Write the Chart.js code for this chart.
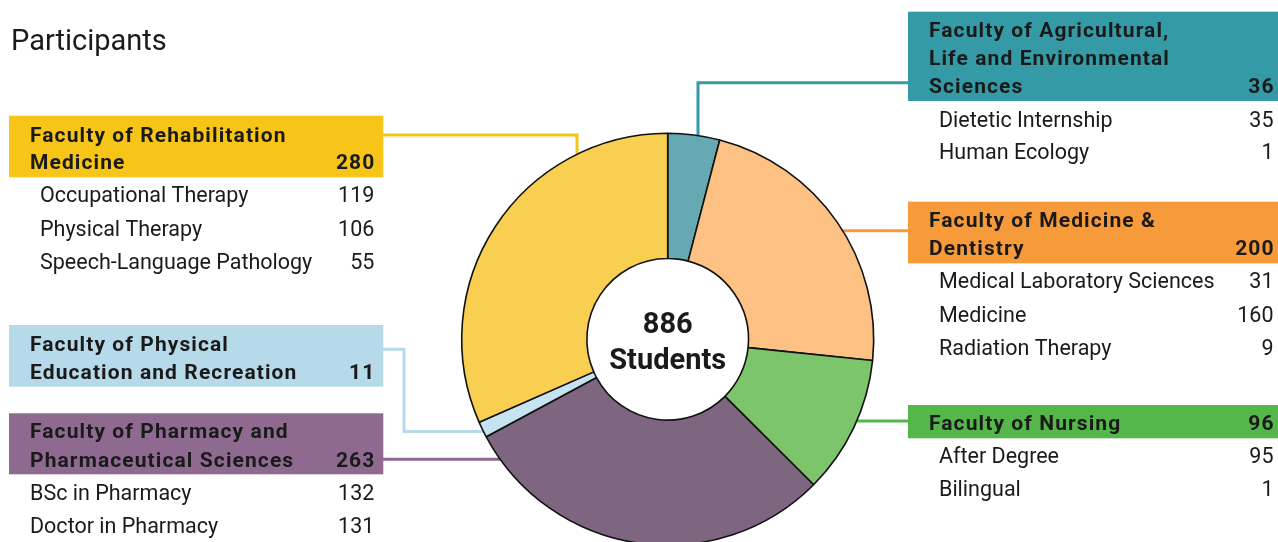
<!DOCTYPE html>
<html><head><meta charset="utf-8">
<script src="https://cdn.jsdelivr.net/npm/chart.js@4.4.0/dist/chart.umd.min.js"></script>
<style>html,body{margin:0;padding:0;overflow:hidden;background:#fff}canvas{display:block}</style>
</head><body><canvas id="c" width="1278" height="560"></canvas>
<script>
// ---- DATA ----
const chartTitle = 'Participants';
const centerLabel = 'Students';
const faculties = [
  'Faculty of Agricultural, Life and Environmental Sciences',
  'Faculty of Medicine & Dentistry',
  'Faculty of Nursing',
  'Faculty of Pharmacy and Pharmaceutical Sciences',
  'Faculty of Physical Education and Recreation',
  'Faculty of Rehabilitation Medicine'
];
const facultyTotals = [36, 200, 96, 263, 11, 280];
const titleLines = [
  ['Faculty of Agricultural,', 'Life and Environmental', 'Sciences'],
  ['Faculty of Medicine &', 'Dentistry'],
  ['Faculty of Nursing'],
  ['Faculty of Pharmacy and', 'Pharmaceutical Sciences'],
  ['Faculty of Physical', 'Education and Recreation'],
  ['Faculty of Rehabilitation', 'Medicine']
];
const programNames = [
  ['Dietetic Internship', 'Human Ecology'],
  ['Medical Laboratory Sciences', 'Medicine', 'Radiation Therapy'],
  ['After Degree', 'Bilingual'],
  ['BSc in Pharmacy', 'Doctor in Pharmacy'],
  [],
  ['Occupational Therapy', 'Physical Therapy', 'Speech-Language Pathology']
];
const programValues = [
  [35, 1],
  [31, 160, 9],
  [95, 1],
  [132, 131],
  [],
  [119, 106, 55]
];
const sliceColors = ['#67A9B3', '#FCC183', '#7DC56B', '#7E6580', '#C6E3F1', '#F8CF50'];
const boxColors   = ['#349AA6', '#F79A3A', '#55B74A', '#8E6A91', '#B6DAEA', '#F6C518'];

// ---- LAYOUT (annotation positions) ----
const boxLayout = [
  {x0:908, x1:1278, y0:11.7, y1:101,  tx:929, nx:1273.5, lineY:[36.7,65,93.3], subX:939, subY:[126.7,159.3], conn:[[908,82.7],[698,82.7],[698,175]]},
  {x0:908, x1:1278, y0:201.7,y1:263.3,tx:929, nx:1273.5, lineY:[227.3,255], subX:939, subY:[288.3,321.7,355], conn:[[908,230.7],[800,230.7]]},
  {x0:908, x1:1278, y0:405,  y1:438.3,tx:929, nx:1273.5, lineY:[430], subX:939, subY:[463.3,496], conn:[[908,421],[800,421]]},
  {x0:9,   x1:383.3,y0:413.3,y1:474.3,tx:30,  nx:374.3, lineY:[438.3,466.7], subX:30, subY:[500,533.3], conn:[[383,459.3],[545,459.3]]},
  {x0:9,   x1:383.3,y0:325,  y1:386.7,tx:30,  nx:374.3, lineY:[350.7,379], subX:30, subY:[], conn:[[383,349.3],[404,349.3],[404,431.5],[545,431.5]]},
  {x0:9,   x1:383.3,y0:115.7,y1:177.3,tx:30,  nx:374.3, lineY:[141.7,169], subX:40, subY:[201.7,235.5,269.3], conn:[[383,135],[577,135],[577,185]]}
];
const TXT = '#1a1a1a';

const annotPlugin = {
  id: 'annot',
  beforeDatasetsDraw(chart) {
    const ctx = chart.ctx;
    ctx.save();
    ctx.lineCap = 'butt'; ctx.lineJoin = 'miter';
    boxLayout.forEach((b, i) => {
      ctx.beginPath();
      ctx.moveTo(b.conn[0][0], b.conn[0][1]);
      for (let k = 1; k < b.conn.length; k++) ctx.lineTo(b.conn[k][0], b.conn[k][1]);
      ctx.strokeStyle = boxColors[i]; ctx.lineWidth = 3; ctx.stroke();
    });
    ctx.restore();
  },
  afterDraw(chart) {
    const ctx = chart.ctx;
    ctx.save();
    ctx.fillStyle = TXT;
    ctx.textBaseline = 'alphabetic';
    ctx.textAlign = 'left';
    ctx.font = '29px Roboto';
    ctx.fillText(chartTitle, 11, 50);

    boxLayout.forEach((b, i) => {
      ctx.fillStyle = boxColors[i];
      ctx.fillRect(b.x0, b.y0, b.x1 - b.x0, b.y1 - b.y0);
      ctx.fillStyle = TXT;
      ctx.font = 'bold 21px Roboto';
      ctx.letterSpacing = '1.1px';
      ctx.textAlign = 'left';
      titleLines[i].forEach((ln, k) => ctx.fillText(ln, b.tx, b.lineY[k]));
      ctx.textAlign = 'right';
      ctx.fillText(String(facultyTotals[i]), b.nx + 1.1, b.lineY[b.lineY.length - 1]);
      ctx.font = '21.5px Roboto';
      ctx.letterSpacing = '0px';
      programNames[i].forEach((nm, k) => {
        ctx.textAlign = 'left';
        ctx.fillText(nm, b.subX, b.subY[k]);
        ctx.textAlign = 'right';
        ctx.fillText(String(programValues[i][k]), b.nx, b.subY[k]);
      });
    });

    const arc = chart.getDatasetMeta(0).data[0];
    const cx = arc.x, cy = arc.y;
    const total = facultyTotals.reduce((a, v) => a + v, 0);
    ctx.letterSpacing = '0px';
    ctx.textAlign = 'center';
    ctx.fillStyle = TXT;
    ctx.font = 'bold 29px Roboto';
    ctx.fillText(String(total), cx, cy - 6);
    ctx.fillText(centerLabel, cx, cy + 30);
    ctx.restore();
  }
};

const CX = 667.7, CY = 339.3, R = 206, RIN = 80.5, H = 560, W = 1278;
new Chart(document.getElementById('c'), {
  type: 'doughnut',
  data: {
    labels: faculties,
    datasets: [{
      data: facultyTotals,
      backgroundColor: sliceColors,
      borderColor: '#111',
      borderWidth: 1.6,
      hoverOffset: 0
    }]
  },
  options: {
    responsive: false,
    animation: false,
    radius: R,
    cutout: RIN,
    rotation: 0,
    layout: { padding: { left: CX - R, right: W - (CX + R), top: CY - R, bottom: H - (CY + R) } },
    plugins: { legend: { display: false }, tooltip: { enabled: false } },
    events: []
  },
  plugins: [annotPlugin]
});
</script>
</body></html>
